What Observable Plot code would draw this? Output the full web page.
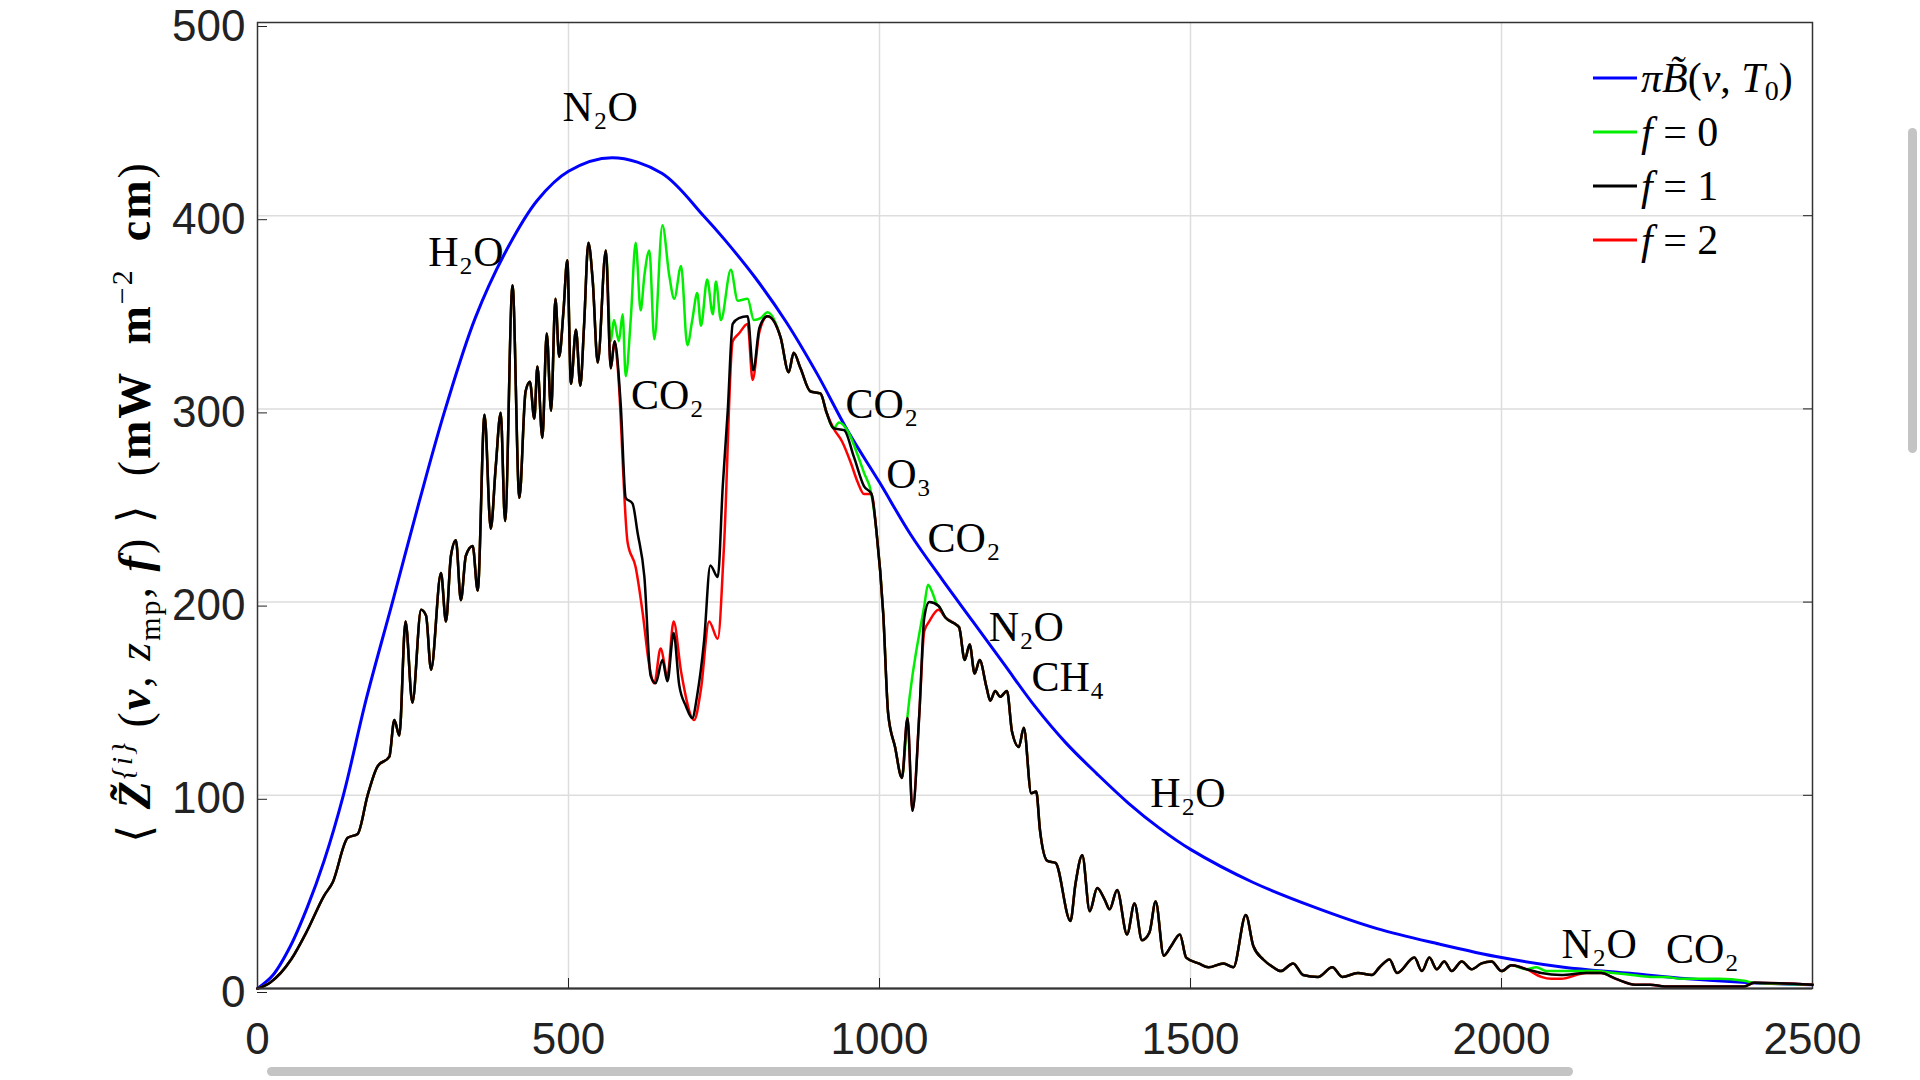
<!DOCTYPE html>
<html>
<head>
<meta charset="utf-8">
<script src="https://cdn.jsdelivr.net/npm/d3@7"></script>
<script src="https://cdn.jsdelivr.net/npm/@observablehq/plot@0.6"></script>
<style>
  body { margin: 0; background: #fff; overflow: hidden; }
  #chart { position: absolute; left: 0; top: 0; }
  .sb { position: absolute; background: #c4c4c4; border-radius: 5px; }
</style>
</head>
<body>
<div id="chart"></div>
<div class="sb" style="left:267px;top:1067px;width:1306px;height:9px"></div>
<div class="sb" style="left:1908px;top:128px;width:9px;height:325px"></div>
<script>
/* Curva de Planck (azul) */
const planckNu = [0,25,53,80,107,138,175,217,260,302,350,400,450,500,570,650,717,750,800,850,900,950,1000,1050,1100,1150,1200,1250,1300,1350,1400,1450,1500,1600,1700,1800,1900,2000,2100,2200,2300,2400,2500];
const planckVal = [0,7,22,42,66,100,150,200,252,300,347,382,408,423,430,422,400,388,368,345,318,288,262,235,212,190,168,146,127,111,96,83,72,55,42,31,23,16,11,8,5,3,2];

/* f = 1 (negro) */
const f1Nu = [0,20,54,80,107,121,145,161,177,193,212,220,228,238,249,263,271,279,295,303,311,319,327,335,346,354,365,375,383,391,398,410,421,431,438,445,450,458,465,472,479,485,492,498,504,512,519,525,532,539,547,560,568,574,584,592,603,611,622,632,640,651,659,669,678,689,699,707,718,728,740,748,756,764,774,788,797,807,820,841,854,862,873,889,905,915,926,943,959,975,987,995,1006,1014,1025,1036,1045,1053,1064,1072,1080,1095,1106,1120,1128,1137,1145,1153,1161,1172,1178,1186,1194,1205,1213,1224,1232,1244,1252,1258,1270,1283,1307,1315,1326,1338,1350,1362,1370,1382,1398,1410,1422,1434,1444,1457,1469,1483,1493,1513,1529,1553,1569,1589,1601,1617,1633,1645,1665,1681,1705,1728,1744,1769,1792,1804,1820,1832,1860,1872,1884,1896,1908,1920,1936,1952,1968,1984,2000,2016,2040,2064,2096,2136,2160,2184,2215,2239,2263,2311,2390,2406,2500];
const f1Val = [0,3,15,30,48,55,78,80,100,115,120,139,131,190,148,196,193,165,215,190,224,232,201,224,229,206,297,238,270,298,242,364,254,309,314,295,322,285,339,299,357,327,351,377,313,341,312,343,386,366,324,382,321,335,302,254,251,236,213,162,158,170,159,184,157,146,140,152,180,219,213,260,299,344,347,348,320,342,348,337,319,329,321,309,308,298,290,289,275,260,256,237,194,142,125,109,140,92,142,192,200,198,192,189,187,170,178,163,170,156,149,154,151,154,133,125,135,101,102,82,66,65,35,54,69,40,52,46,41,51,28,44,25,29,45,17,22,28,16,13,11,13,11,38,22,15,11,9,13,7,6,11,6,8,7,11,15,8,16,9,16,10,14,9,14,10,13,14,9,12,10,8,7,8,8,5,2,2,1,1,1,3,2];

/* f = 0 (verde): tramos donde difiere de f = 1 */
const f0Nu = [568,573,581,587,592,600,608,616,622,630,638,651,662,670,681,691,699,707,713,723,732,737,745,761,772,788,798,809,820,935,950,965,975,1045,1072,1078,1085,1092,2056,2072,2100,2130,2152,2180,2210,2240,2263,2290,2320,2350,2390];
const f0Val = [335,346,335,349,317,346,386,351,369,382,336,395,369,357,374,333,346,360,343,367,349,366,346,372,356,357,346,347,350,293,288,276,267,141,198,209,205,199,11,9,9,9,9,8,7,6,6,5,5,5,4];

/* f = 2 (rojo): tramos donde difiere de f = 1 */
const f2Nu = [579,595,608,619,630,638,648,659,669,681,702,713,726,740,750,764,774,788,796,807,940,954,965,975,1072,1080,1095,2064,2080,2096];
const f2Val = [322,231,218,195,167,158,176,162,190,164,139,155,190,181,229,335,339,344,315,340,283,272,262,256,185,190,196,6,5,5];

const labels = [
  {t: "N₂O", nu: 551, v: 456}, {t: "H₂O", nu: 335, v: 381}, {t: "CO₂", nu: 659, v: 307},
  {t: "CO₂", nu: 1004, v: 302}, {t: "O₃", nu: 1047, v: 266}, {t: "CO₂", nu: 1136, v: 233},
  {t: "N₂O", nu: 1236, v: 187}, {t: "CH₄", nu: 1303, v: 161}, {t: "H₂O", nu: 1496, v: 101},
  {t: "N₂O", nu: 2157, v: 23}, {t: "CO₂", nu: 2323, v: 20}
];

const toPts = (nu, val) => nu.map((n, i) => ({nu: n, v: val[i]}));
// reemplaza los tramos distintos sobre la serie f = 1
function merge(nu, val) {
  const inside = n => nu.some((m, j) => j > 0 && m - nu[j - 1] <= 40 && n >= nu[j - 1] && n <= m);
  const base = f1Nu.map((n, i) => [n, f1Val[i]]).filter(([n]) => !inside(n) && !nu.includes(n));
  return [...base, ...nu.map((n, i) => [n, val[i]])].sort((a, b) => a[0] - b[0]).map(([n, v]) => ({nu: n, v}));
}
const blue = toPts(planckNu, planckVal);
const black = toPts(f1Nu, f1Val);
const green = merge(f0Nu, f0Val);
const red = merge(f2Nu, f2Val);

const serif = "'Liberation Serif', 'DejaVu Serif', serif";
const narrow = "'Liberation Sans Narrow', 'Liberation Sans', sans-serif";

const chart = Plot.plot({
  width: 1920, height: 1080,
  marginLeft: 257, marginRight: 108, marginTop: 22, marginBottom: 92,
  style: {fontFamily: narrow, fontSize: "44px", color: "#222", background: "white"},
  x: {domain: [0, 2500]},
  y: {domain: [0, 500]},
  marks: [
    Plot.gridX({ticks: [500, 1000, 1500, 2000], stroke: "#ddd", strokeOpacity: 1, strokeWidth: 1.5}),
    Plot.gridY({ticks: [100, 200, 300, 400], stroke: "#ddd", strokeOpacity: 1, strokeWidth: 1.5}),
    Plot.axisX({ticks: [0, 500, 1000, 1500, 2000, 2500], tickFormat: d => String(d), tickSize: -10, tickPadding: 44, label: null, fontSize: 44}),
    Plot.axisY({ticks: [0, 100, 200, 300, 400, 500], tickFormat: d => String(d), tickSize: -10, tickPadding: 22, label: null, fontSize: 44, dy: 4}),
    Plot.axisY({anchor: "right", ticks: [0, 100, 200, 300, 400, 500], tickSize: -10, tickFormat: () => "", label: null}),
    Plot.frame({stroke: "#333", strokeWidth: 1.5}),
    Plot.line(blue, {x: "nu", y: "v", stroke: "#0000ff", strokeWidth: 3, curve: "catmull-rom"}),
    Plot.line(green, {x: "nu", y: "v", stroke: "#00ee00", strokeWidth: 2.5, curve: "monotone-x"}),
    Plot.line(red, {x: "nu", y: "v", stroke: "#ff0000", strokeWidth: 2.5, curve: "monotone-x"}),
    Plot.line(black, {x: "nu", y: "v", stroke: "#000", strokeWidth: 2.5, curve: "monotone-x"}),
    Plot.ruleY([0], {stroke: "#333", strokeWidth: 2}),
    Plot.text(labels, {x: "nu", y: "v", text: "t", fontFamily: serif, fontSize: 42, fill: "#000"})
  ]
});

const svg = d3.select(chart);
// etiqueta del eje y
const yl = svg.append("text")
  .attr("transform", "translate(150,502) rotate(-90)")
  .attr("text-anchor", "middle")
  .attr("font-family", serif).attr("font-size", 46).attr("fill", "#000")
  .attr("letter-spacing", 2);
yl.append("tspan").text("⟨ ");
yl.append("tspan").attr("font-style", "italic").attr("font-weight", "bold").text("Z̃");
yl.append("tspan").attr("font-size", 30).attr("dy", -18).attr("font-style", "italic").text("{i}");
yl.append("tspan").attr("dy", 18).text(" (");
yl.append("tspan").attr("font-style", "italic").attr("font-weight", "bold").text("ν");
yl.append("tspan").text(", ");
yl.append("tspan").attr("font-style", "italic").text("z");
yl.append("tspan").attr("font-size", 30).attr("dy", 10).text("mp");
yl.append("tspan").attr("dy", -10).text(", ");
yl.append("tspan").attr("font-style", "italic").attr("font-weight", "bold").text("f");
yl.append("tspan").text(") ⟩  (");
yl.append("tspan").attr("font-weight", "bold").text("mW  m");
yl.append("tspan").attr("font-size", 30).attr("dy", -18).text("−2");
yl.append("tspan").attr("dy", 18).attr("font-weight", "bold").text("  cm");
yl.append("tspan").text(")");

// leyenda
const leg = [["#0000ff", null], ["#00ee00", "0"], ["#000000", "1"], ["#ff0000", "2"]];
leg.forEach(([c, n], i) => {
  const y = 78 + i * 54;
  svg.append("line").attr("x1", 1593).attr("x2", 1637).attr("y1", y).attr("y2", y)
    .attr("stroke", c).attr("stroke-width", 3);
  const t = svg.append("text").attr("x", 1641).attr("y", y + 14).attr("text-anchor", "start")
    .attr("font-family", serif).attr("font-size", 42).attr("fill", "#000");
  if (n === null) {
    t.append("tspan").attr("font-style", "italic").text("πB̃");
    t.append("tspan").text("(");
    t.append("tspan").attr("font-style", "italic").text("ν");
    t.append("tspan").text(", ");
    t.append("tspan").attr("font-style", "italic").text("T");
    t.append("tspan").attr("font-size", 28).attr("dy", 8).text("0");
    t.append("tspan").attr("dy", -8).text(")");
  } else {
    t.append("tspan").attr("font-style", "italic").text("f");
    t.append("tspan").text(" = " + n);
  }
});

document.getElementById("chart").append(chart);
</script>
</body>
</html>
